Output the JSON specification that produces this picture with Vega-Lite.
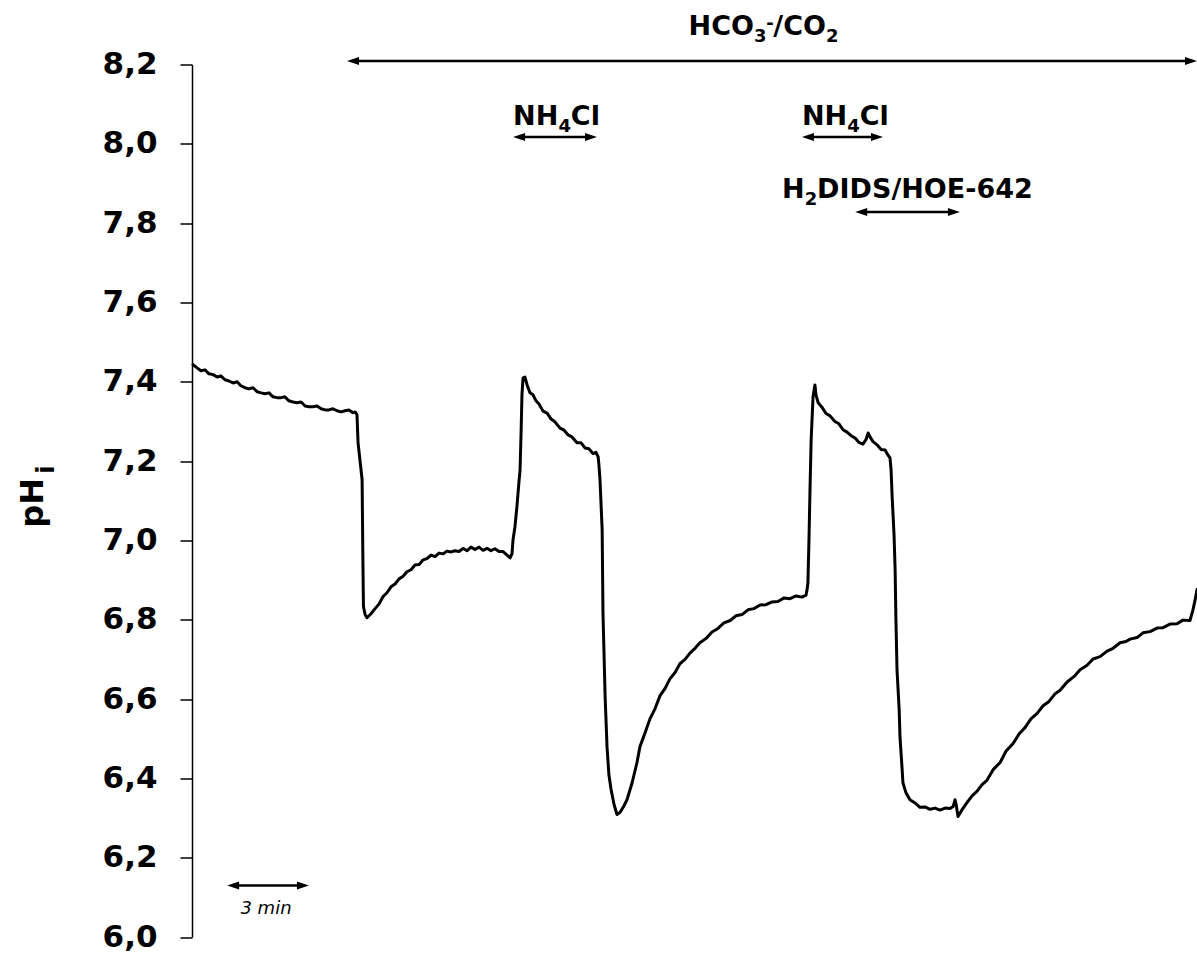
{
  "$schema": "https://vega.github.io/schema/vega-lite/v6.json",
  "width": 1005,
  "height": 872.5,
  "autosize": {"type": "none"},
  "padding": {"left": 192, "top": 64.5, "right": 0, "bottom": 23},
  "background": "white",
  "config": {"view": {"stroke": null}, "font": "DejaVu Sans"},
  "datasets": {
    "trace": [
      {"t":0.04,"ph":7.443},{"t":0.19,"ph":7.435},{"t":0.33,"ph":7.428},{"t":0.48,"ph":7.430},{"t":0.63,"ph":7.420},{"t":0.78,"ph":7.418},{"t":0.93,"ph":7.412},{"t":1.07,"ph":7.415},{"t":1.22,"ph":7.405},{"t":1.37,"ph":7.402},{"t":1.52,"ph":7.397},{"t":1.67,"ph":7.400},{"t":1.81,"ph":7.390},{"t":1.96,"ph":7.385},{"t":2.11,"ph":7.382},{"t":2.26,"ph":7.385},{"t":2.41,"ph":7.375},{"t":2.56,"ph":7.372},{"t":2.70,"ph":7.370},{"t":2.85,"ph":7.372},{"t":3.00,"ph":7.362},{"t":3.15,"ph":7.360},{"t":3.30,"ph":7.360},{"t":3.44,"ph":7.362},{"t":3.59,"ph":7.352},{"t":3.74,"ph":7.349},{"t":3.89,"ph":7.347},{"t":4.04,"ph":7.349},{"t":4.19,"ph":7.339},{"t":4.33,"ph":7.337},{"t":4.48,"ph":7.337},{"t":4.63,"ph":7.339},{"t":4.78,"ph":7.332},{"t":4.93,"ph":7.329},{"t":5.07,"ph":7.329},{"t":5.22,"ph":7.332},{"t":5.37,"ph":7.327},{"t":5.52,"ph":7.324},{"t":5.67,"ph":7.327},{"t":5.81,"ph":7.329},{"t":5.96,"ph":7.322},{"t":6.04,"ph":7.324},
      {"t":6.11,"ph":7.317},{"t":6.15,"ph":7.246},{"t":6.30,"ph":7.153},{"t":6.33,"ph":6.944},{"t":6.35,"ph":6.833},{"t":6.41,"ph":6.813},{"t":6.48,"ph":6.805},
      {"t":6.63,"ph":6.815},{"t":6.78,"ph":6.828},{"t":6.93,"ph":6.840},{"t":7.07,"ph":6.858},{"t":7.22,"ph":6.868},{"t":7.37,"ph":6.883},{"t":7.52,"ph":6.890},{"t":7.67,"ph":6.903},{"t":7.81,"ph":6.909},{"t":7.96,"ph":6.921},{"t":8.11,"ph":6.926},{"t":8.26,"ph":6.938},{"t":8.41,"ph":6.939},{"t":8.56,"ph":6.951},{"t":8.70,"ph":6.954},{"t":8.85,"ph":6.963},{"t":9.00,"ph":6.959},{"t":9.15,"ph":6.968},{"t":9.30,"ph":6.966},{"t":9.44,"ph":6.973},{"t":9.59,"ph":6.971},{"t":9.74,"ph":6.974},{"t":9.89,"ph":6.972},{"t":10.04,"ph":6.980},{"t":10.19,"ph":6.974},{"t":10.33,"ph":6.983},{"t":10.48,"ph":6.977},{"t":10.63,"ph":6.983},{"t":10.78,"ph":6.975},{"t":10.93,"ph":6.980},{"t":11.07,"ph":6.974},{"t":11.22,"ph":6.979},{"t":11.37,"ph":6.972},{"t":11.52,"ph":6.972},{"t":11.67,"ph":6.963},{"t":11.78,"ph":6.956},{"t":11.85,"ph":6.966},{"t":11.89,"ph":7.002},{"t":11.96,"ph":7.034},{"t":12.04,"ph":7.090},{"t":12.11,"ph":7.148},{"t":12.15,"ph":7.178},{"t":12.19,"ph":7.279},{"t":12.22,"ph":7.367},{"t":12.26,"ph":7.410},{"t":12.33,"ph":7.412},
      {"t":12.41,"ph":7.392},{"t":12.52,"ph":7.372},{"t":12.63,"ph":7.367},{"t":12.74,"ph":7.352},{"t":12.85,"ph":7.344},{"t":13.00,"ph":7.326},{"t":13.15,"ph":7.321},{"t":13.30,"ph":7.306},{"t":13.44,"ph":7.299},{"t":13.63,"ph":7.283},{"t":13.78,"ph":7.278},{"t":13.93,"ph":7.266},{"t":14.07,"ph":7.261},{"t":14.26,"ph":7.246},{"t":14.41,"ph":7.246},{"t":14.56,"ph":7.233},{"t":14.70,"ph":7.231},{"t":14.85,"ph":7.219},{"t":14.96,"ph":7.222},{"t":15.04,"ph":7.211},
      {"t":15.07,"ph":7.191},{"t":15.11,"ph":7.153},{"t":15.15,"ph":7.090},{"t":15.19,"ph":7.027},{"t":15.22,"ph":6.818},{"t":15.30,"ph":6.606},{"t":15.37,"ph":6.480},{"t":15.44,"ph":6.409},{"t":15.52,"ph":6.372},{"t":15.63,"ph":6.334},{"t":15.74,"ph":6.309},{"t":15.85,"ph":6.314},{"t":16.00,"ph":6.331},{"t":16.11,"ph":6.346},{"t":16.30,"ph":6.389},{"t":16.48,"ph":6.440},{"t":16.59,"ph":6.480},
      {"t":16.78,"ph":6.515},{"t":16.96,"ph":6.550},{"t":17.15,"ph":6.576},{"t":17.33,"ph":6.608},{"t":17.52,"ph":6.627},{"t":17.70,"ph":6.651},{"t":17.89,"ph":6.667},{"t":18.07,"ph":6.689},{"t":18.26,"ph":6.700},{"t":18.44,"ph":6.716},{"t":18.63,"ph":6.728},{"t":18.81,"ph":6.742},{"t":19.04,"ph":6.753},{"t":19.26,"ph":6.769},{"t":19.48,"ph":6.778},{"t":19.70,"ph":6.792},{"t":19.93,"ph":6.798},{"t":20.15,"ph":6.810},{"t":20.37,"ph":6.813},{"t":20.59,"ph":6.825},{"t":20.81,"ph":6.828},{"t":21.04,"ph":6.837},{"t":21.26,"ph":6.838},{"t":21.48,"ph":6.845},{"t":21.70,"ph":6.846},{"t":21.93,"ph":6.855},{"t":22.15,"ph":6.853},{"t":22.37,"ph":6.860},{"t":22.59,"ph":6.857},{"t":22.74,"ph":6.862},
      {"t":22.78,"ph":6.876},{"t":22.81,"ph":6.893},{"t":22.85,"ph":7.002},{"t":22.89,"ph":7.135},{"t":22.93,"ph":7.254},{"t":23.00,"ph":7.362},{"t":23.07,"ph":7.392},
      {"t":23.11,"ph":7.367},{"t":23.19,"ph":7.347},{"t":23.33,"ph":7.336},{"t":23.48,"ph":7.320},{"t":23.63,"ph":7.314},{"t":23.81,"ph":7.300},{"t":23.96,"ph":7.294},{"t":24.11,"ph":7.279},{"t":24.26,"ph":7.273},{"t":24.41,"ph":7.264},{"t":24.56,"ph":7.258},{"t":24.70,"ph":7.247},{"t":24.85,"ph":7.243},{"t":24.96,"ph":7.254},{"t":25.04,"ph":7.271},{"t":25.11,"ph":7.261},{"t":25.22,"ph":7.249},{"t":25.37,"ph":7.241},{"t":25.52,"ph":7.229},{"t":25.67,"ph":7.228},{"t":25.74,"ph":7.219},{"t":25.85,"ph":7.208},
      {"t":25.89,"ph":7.178},{"t":25.93,"ph":7.110},{"t":26.00,"ph":7.014},{"t":26.04,"ph":6.926},{"t":26.07,"ph":6.800},{"t":26.11,"ph":6.674},{"t":26.19,"ph":6.573},{"t":26.22,"ph":6.505},{"t":26.30,"ph":6.422},{"t":26.33,"ph":6.389},{"t":26.44,"ph":6.364},{"t":26.59,"ph":6.346},{"t":26.78,"ph":6.338},{"t":26.96,"ph":6.327},{"t":27.15,"ph":6.328},{"t":27.33,"ph":6.322},{"t":27.52,"ph":6.325},{"t":27.70,"ph":6.320},{"t":27.89,"ph":6.325},{"t":28.07,"ph":6.324},{"t":28.19,"ph":6.329},{"t":28.26,"ph":6.346},{"t":28.30,"ph":6.334},{"t":28.37,"ph":6.304},{"t":28.52,"ph":6.321},
      {"t":28.70,"ph":6.339},{"t":28.89,"ph":6.356},{"t":29.07,"ph":6.367},{"t":29.26,"ph":6.384},{"t":29.44,"ph":6.395},{"t":29.67,"ph":6.422},{"t":29.93,"ph":6.440},{"t":30.15,"ph":6.469},{"t":30.41,"ph":6.488},{"t":30.63,"ph":6.512},{"t":30.85,"ph":6.528},{"t":31.07,"ph":6.550},{"t":31.30,"ph":6.564},{"t":31.52,"ph":6.583},{"t":31.74,"ph":6.594},{"t":31.96,"ph":6.613},{"t":32.15,"ph":6.622},{"t":32.41,"ph":6.643},{"t":32.67,"ph":6.657},{"t":32.89,"ph":6.674},{"t":33.15,"ph":6.685},{"t":33.37,"ph":6.701},{"t":33.63,"ph":6.707},{"t":33.89,"ph":6.721},{"t":34.11,"ph":6.728},{"t":34.37,"ph":6.742},{"t":34.59,"ph":6.745},{"t":34.74,"ph":6.751},{"t":35.00,"ph":6.755},{"t":35.22,"ph":6.767},{"t":35.48,"ph":6.770},{"t":35.74,"ph":6.779},{"t":35.96,"ph":6.780},{"t":36.22,"ph":6.789},{"t":36.48,"ph":6.790},{"t":36.70,"ph":6.799},{"t":36.96,"ph":6.798},{"t":37.07,"ph":6.825},{"t":37.15,"ph":6.850},{"t":37.22,"ph":6.876}
    ],
    "arrows": [
      {"t0": 5.74, "t1": 37.22, "ph": 8.209},
      {"t0": 11.89, "t1": 15.00, "ph": 8.017},
      {"t0": 22.59, "t1": 25.59, "ph": 8.017},
      {"t0": 24.56, "t1": 28.44, "ph": 7.828},
      {"t0": 1.30, "t1": 4.33, "ph": 6.130}
    ],
    "labels": [
      {"text": "HCO", "t": 18.39, "ph": 8.274, "part": "main"},
      {"text": "3", "t": 20.81, "ph": 8.274, "part": "sub"},
      {"text": "-", "t": 21.27, "ph": 8.274, "part": "sup"},
      {"text": "/CO", "t": 21.53, "ph": 8.274, "part": "main"},
      {"text": "2", "t": 23.48, "ph": 8.274, "part": "sub"},
      {"text": "NH", "t": 11.89, "ph": 8.048, "part": "main"},
      {"text": "4", "t": 13.57, "ph": 8.048, "part": "sub"},
      {"text": "Cl", "t": 14.03, "ph": 8.048, "part": "main"},
      {"text": "NH", "t": 22.59, "ph": 8.048, "part": "main"},
      {"text": "4", "t": 24.27, "ph": 8.048, "part": "sub"},
      {"text": "Cl", "t": 24.73, "ph": 8.048, "part": "main"},
      {"text": "H", "t": 21.85, "ph": 7.864, "part": "main"},
      {"text": "2", "t": 22.69, "ph": 7.864, "part": "sub"},
      {"text": "DIDS/HOE-642", "t": 23.15, "ph": 7.864, "part": "main"},
      {"text": "3 min", "t": 2.74, "ph": 6.057, "part": "note"},
      {"text": "pH", "t": -5.52, "ph": 7.032, "part": "ytitle"},
      {"text": "i", "t": -5.52, "ph": 7.032, "part": "ytitle_sub"}
    ]
  },
  "encoding": {
    "y": {
      "field": "ph", "type": "quantitative",
      "scale": {"domain": [6.0, 8.2], "nice": false, "zero": false},
      "axis": {
        "values": [6.0, 6.2, 6.4, 6.6, 6.8, 7.0, 7.2, 7.4, 7.6, 7.8, 8.0, 8.2],
        "labelExpr": "replace(format(datum.value, '.1f'), '.', ',')",
        "labelFont": "DejaVu Sans", "labelFontWeight": "bold", "labelFontSize": 31, "labelColor": "black",
        "labelPadding": 23, "labelFlush": false, "labelOverlap": false, "labelBound": false,
        "tickSize": 12, "tickColor": "black", "tickWidth": 1.5,
        "domainColor": "black", "domainWidth": 1.5, "grid": false, "title": null
      }
    }
  },
  "layer": [
    {
      "data": {"name": "trace"},
      "mark": {"type": "line", "color": "black", "strokeWidth": 3, "strokeJoin": "round", "strokeCap": "round"},
      "encoding": {
        "x": {"field": "t", "type": "quantitative", "scale": {"domain": [0, 37.22], "nice": false, "zero": false}, "axis": null}
      }
    },
    {
      "data": {"name": "arrows"},
      "mark": {"type": "rule", "color": "black", "strokeWidth": 2.5, "xOffset": 6, "x2Offset": -6},
      "encoding": {
        "x": {"field": "t0", "type": "quantitative", "scale": {"domain": [0, 37.22], "nice": false, "zero": false}, "axis": null},
        "x2": {"field": "t1"}
      }
    },
    {
      "data": {"name": "arrows"},
      "mark": {"type": "point", "shape": "M0,0L2.4,-0.8L2.4,0.8Z", "size": 100, "filled": true, "color": "black", "opacity": 1, "strokeWidth": 0},
      "encoding": {
        "x": {"field": "t0", "type": "quantitative", "scale": {"domain": [0, 37.22], "nice": false, "zero": false}, "axis": null}
      }
    },
    {
      "data": {"name": "arrows"},
      "mark": {"type": "point", "shape": "M0,0L-2.4,-0.8L-2.4,0.8Z", "size": 100, "filled": true, "color": "black", "opacity": 1, "strokeWidth": 0},
      "encoding": {
        "x": {"field": "t1", "type": "quantitative", "scale": {"domain": [0, 37.22], "nice": false, "zero": false}, "axis": null}
      }
    },
    {
      "data": {"name": "labels"},
      "transform": [{"filter": "datum.part === 'main'"}],
      "mark": {"type": "text", "font": "DejaVu Sans", "fontWeight": "bold", "fontSize": 27, "align": "left", "baseline": "alphabetic", "color": "black"},
      "encoding": {
        "x": {"field": "t", "type": "quantitative", "scale": {"domain": [0, 37.22], "nice": false, "zero": false}, "axis": null},
        "text": {"field": "text"}
      }
    },
    {
      "data": {"name": "labels"},
      "transform": [{"filter": "datum.part === 'sub'"}],
      "mark": {"type": "text", "font": "DejaVu Sans", "fontWeight": "bold", "fontSize": 18, "align": "left", "baseline": "alphabetic", "dy": 7, "color": "black"},
      "encoding": {
        "x": {"field": "t", "type": "quantitative", "scale": {"domain": [0, 37.22], "nice": false, "zero": false}, "axis": null},
        "text": {"field": "text"}
      }
    },
    {
      "data": {"name": "labels"},
      "transform": [{"filter": "datum.part === 'sup'"}],
      "mark": {"type": "text", "font": "DejaVu Sans", "fontWeight": "bold", "fontSize": 18, "align": "left", "baseline": "alphabetic", "dy": -6, "color": "black"},
      "encoding": {
        "x": {"field": "t", "type": "quantitative", "scale": {"domain": [0, 37.22], "nice": false, "zero": false}, "axis": null},
        "text": {"field": "text"}
      }
    },
    {
      "data": {"name": "labels"},
      "transform": [{"filter": "datum.part === 'note'"}],
      "mark": {"type": "text", "font": "DejaVu Sans", "fontStyle": "italic", "fontSize": 18, "align": "center", "baseline": "alphabetic", "color": "black"},
      "encoding": {
        "x": {"field": "t", "type": "quantitative", "scale": {"domain": [0, 37.22], "nice": false, "zero": false}, "axis": null},
        "text": {"field": "text"}
      }
    },
    {
      "data": {"name": "labels"},
      "transform": [{"filter": "datum.part === 'ytitle'"}],
      "mark": {"type": "text", "font": "DejaVu Sans", "fontWeight": "bold", "fontSize": 32, "align": "left", "baseline": "alphabetic", "angle": 270, "color": "black"},
      "encoding": {
        "x": {"field": "t", "type": "quantitative", "scale": {"domain": [0, 37.22], "nice": false, "zero": false}, "axis": null},
        "text": {"field": "text"}
      }
    },
    {
      "data": {"name": "labels"},
      "transform": [{"filter": "datum.part === 'ytitle_sub'"}],
      "mark": {"type": "text", "font": "DejaVu Sans", "fontWeight": "bold", "fontSize": 24, "align": "left", "baseline": "alphabetic", "angle": 270, "dx": 54, "dy": 11, "color": "black"},
      "encoding": {
        "x": {"field": "t", "type": "quantitative", "scale": {"domain": [0, 37.22], "nice": false, "zero": false}, "axis": null},
        "text": {"field": "text"}
      }
    }
  ]
}
